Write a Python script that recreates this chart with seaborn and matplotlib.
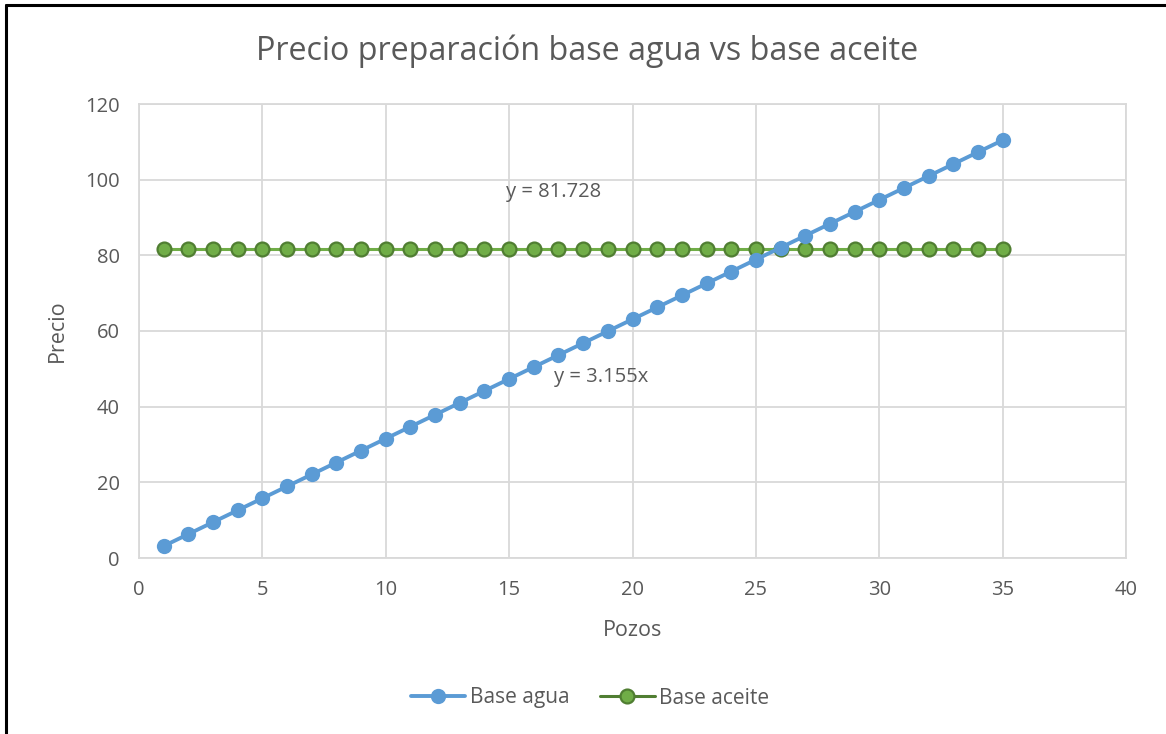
import matplotlib
matplotlib.use("Agg")
import matplotlib.pyplot as plt
import seaborn as sns
import pandas as pd
from matplotlib.lines import Line2D

# Number of wells
pozos = list(range(1, 36))

# Water-based mud cost per well count
base_agua = [3.155, 6.31, 9.465, 12.62, 15.775, 18.93, 22.085, 25.24, 28.395, 31.55,
             34.705, 37.86, 41.015, 44.17, 47.325, 50.48, 53.635, 56.79, 59.945, 63.1,
             66.255, 69.41, 72.565, 75.72, 78.875, 82.03, 85.185, 88.34, 91.495, 94.65,
             97.805, 100.96, 104.115, 107.27, 110.425]

# Oil-based mud cost (flat)
base_aceite = [81.728] * 35

series_names = ["Base agua", "Base aceite"]
trend_labels = ["y = 3.155x", "y = 81.728"]
x_ticks = [0, 5, 10, 15, 20, 25, 30, 35, 40]
y_ticks = [0, 20, 40, 60, 80, 100, 120]

df = pd.DataFrame({
    "Pozos": pozos * 2,
    "Precio": base_agua + base_aceite,
    "Serie": [series_names[0]] * len(pozos) + [series_names[1]] * len(pozos),
})

sns.set_theme(style="white")
plt.rcParams["font.family"] = ["Open Sans", "DejaVu Sans"]

TEXT = "#595959"
GRID = "#d9d9d9"
BLUE = "#5b9bd5"
GREEN = "#70ad47"
GREEN_EDGE = "#507e32"

fig = plt.figure(figsize=(11.66, 7.34), dpi=100)
ax = fig.add_axes([139 / 1166, 1 - 558 / 734, (1126 - 139) / 1166, (558 - 104) / 734])

agua = df[df["Serie"] == series_names[0]]
aceite = df[df["Serie"] == series_names[1]]

sns.lineplot(data=aceite, x="Pozos", y="Precio", ax=ax, color=GREEN, lw=2.2,
             marker="o", markersize=10, markerfacecolor=GREEN,
             markeredgecolor=GREEN_EDGE, markeredgewidth=1.6, zorder=3)
sns.lineplot(data=agua, x="Pozos", y="Precio", ax=ax, color=BLUE, lw=2.8,
             marker="o", markersize=11, markerfacecolor=BLUE,
             markeredgecolor=BLUE, markeredgewidth=0, zorder=4)

ax.set_xlim(0, 40)
ax.set_ylim(0, 120)
ax.set_xticks(x_ticks)
ax.set_yticks(y_ticks)
ax.tick_params(axis="x", length=0, labelsize=14.5, labelcolor=TEXT, pad=16)
ax.tick_params(axis="y", length=0, labelsize=14.5, labelcolor=TEXT, pad=14)
ax.grid(True, color=GRID, lw=1.3)
ax.set_axisbelow(True)
for s in ax.spines.values():
    s.set_color(GRID)
    s.set_linewidth(1.3)

ax.set_xlabel("Pozos", fontsize=15.5, color=TEXT, labelpad=14)
ax.set_ylabel("Precio", fontsize=15.5, color=TEXT, labelpad=12)
ax.set_title("Precio preparación base agua vs base aceite", fontsize=23.2,
             color=TEXT, pad=32, x=(587 - 139) / (1126 - 139))

# Trendline equations
ax.text(16.82, 96.7, trend_labels[1], fontsize=14.5, color=TEXT, ha="center", va="center")
ax.text(18.72, 47.8, trend_labels[0], fontsize=14.5, color=TEXT, ha="center", va="center")

handles = [
    Line2D([], [], color=BLUE, lw=2.8, marker="o", markersize=11,
           markerfacecolor=BLUE, markeredgewidth=0),
    Line2D([], [], color=GREEN_EDGE, lw=2.2, marker="o", markersize=10,
           markerfacecolor=GREEN, markeredgecolor=GREEN_EDGE, markeredgewidth=1.6),
]
fig.legend(handles, series_names, loc="center", bbox_to_anchor=(590 / 1166, 1 - 698 / 734),
           ncol=2, frameon=False, fontsize=15, labelcolor=TEXT,
           handlelength=2.6, handletextpad=0.2, columnspacing=1.5)

# Outer frame (top and left edges)
fig.add_artist(Line2D([6 / 1166, 6 / 1166], [0, 1 - 5 / 734], transform=fig.transFigure,
                      color="black", lw=2.2))
fig.add_artist(Line2D([6 / 1166, 1], [1 - 5 / 734, 1 - 5 / 734], transform=fig.transFigure,
                      color="black", lw=2.2))

fig.savefig("out.png", dpi=100, facecolor="white")
